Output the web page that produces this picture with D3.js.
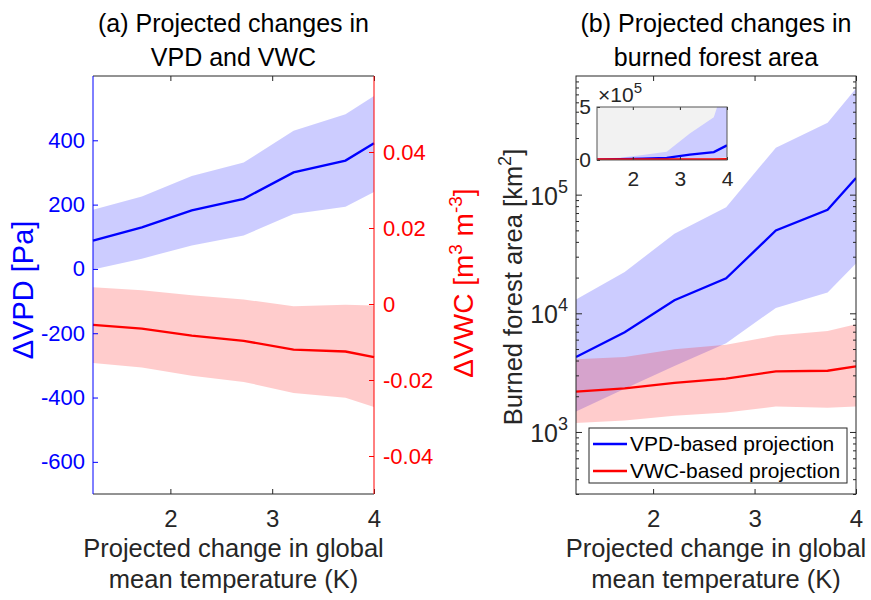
<!DOCTYPE html>
<html>
<head>
<meta charset="utf-8">
<script src="https://cdn.jsdelivr.net/npm/d3@7"></script>
<style>
  body { margin: 0; background: #fff; }
  svg { display: block; font-family: "Liberation Sans", Arial, sans-serif; }
</style>
</head>
<body>
<div id="chartContainer"></div>
<script>
// Global mean temperature change (K) at which the projections were evaluated
const temps = [1.24, 1.72, 2.21, 2.72, 3.21, 3.72, 4.0];

// (a) VPD change [Pa]: median and spread
const vpdMedian = [88, 129, 182, 218, 300, 337, 391];
const vpdUpper = [184, 225, 289, 331, 430, 481, 538];
const vpdLower = [-2, 32, 73, 104, 171, 193, 239];

// (a) VWC change [m3 m-3]
const vwcMedian = [-0.0055, -0.0065, -0.0083, -0.0097, -0.0120, -0.0125, -0.0140];
const vwcUpper = [0.0044, 0.0036, 0.0023, 0.0012, -0.0006, -0.0002, -0.0004];
const vwcLower = [-0.0155, -0.0167, -0.0189, -0.0205, -0.0234, -0.0247, -0.0271];

// (b) Burned forest area [km2]
const areaVpdMedian = [4280, 6930, 12900, 19700, 49900, 74500, 138000];
const areaVpdUpper = [13100, 22300, 46800, 78300, 249000, 404000, 785000];
const areaVpdLower = [1490, 2310, 3600, 5600, 11100, 15000, 26300];
const areaVwcMedian = [2190, 2330, 2590, 2810, 3240, 3280, 3570];
const areaVwcUpper = [4110, 4280, 4990, 5420, 6490, 7100, 8090];
const areaVwcLower = [1190, 1250, 1370, 1460, 1640, 1600, 1640];

// Tick labels
const xTicks = [2, 3, 4];
const vpdTicks = [-600, -400, -200, 0, 200, 400];
const vwcTicks = [-0.04, -0.02, 0, 0.02, 0.04];
const areaTicks = [1e3, 1e4, 1e5];
const insetYTicks = [0, 5e5];

const legendLabels = ["VPD-based projection", "VWC-based projection"];

const BLUE = "#0000ff", RED = "#ff0000", DARK = "#262626";

function createChart() {
    const width = 871, height = 600;
    const top = 76, bottom = 494;

    const svg = d3.create("svg")
        .attr("width", width)
        .attr("height", height)
        .attr("viewBox", `0 0 ${width} ${height}`);

    // ---------- panel (a) ----------
    const xA = d3.scaleLinear().domain([1.24, 4]).range([93, 374]);
    const yVpd = d3.scaleLinear().domain([-700, 600]).range([bottom, top]);
    const yVwc = d3.scaleLinear().domain([-0.05, 0.06]).range([bottom, top]);

    const rows = temps.map((t, i) => ({ t, i }));

    const areaGen = (x, y, lo, hi) => d3.area()
        .x(d => x(d.t)).y0(d => y(lo[d.i])).y1(d => y(hi[d.i]));
    const lineGen = (x, y, v) => d3.line()
        .x(d => x(d.t)).y(d => y(v[d.i]));

    const gA = svg.append("g");
    gA.append("path").datum(rows)
        .attr("d", areaGen(xA, yVpd, vpdLower, vpdUpper))
        .attr("fill", BLUE).attr("fill-opacity", 0.2);
    gA.append("path").datum(rows)
        .attr("d", areaGen(xA, yVwc, vwcLower, vwcUpper))
        .attr("fill", RED).attr("fill-opacity", 0.2);
    gA.append("path").datum(rows)
        .attr("d", lineGen(xA, yVpd, vpdMedian))
        .attr("fill", "none").attr("stroke", BLUE).attr("stroke-width", 2.3);
    gA.append("path").datum(rows)
        .attr("d", lineGen(xA, yVwc, vwcMedian))
        .attr("fill", "none").attr("stroke", RED).attr("stroke-width", 2.3);

    // box: top/bottom dark, left blue, right red
    const styleAxis = (g, color, size) => {
        g.select(".domain").remove();
        g.selectAll(".tick line").attr("stroke", color);
        g.selectAll(".tick text").attr("fill", color).style("font-size", size + "px");
    };
    const plain = d => String(d);   // hyphen minus, like the original

    gA.append("g").attr("transform", `translate(0,${bottom})`)
        .call(d3.axisBottom(xA).tickValues(xTicks).tickFormat(plain)
            .tickSize(-5).tickPadding(16))
        .call(g => styleAxis(g, DARK, 24));
    gA.append("g").attr("transform", `translate(0,${top})`)
        .call(d3.axisTop(xA).tickValues(xTicks).tickFormat("").tickSize(-5))
        .call(g => styleAxis(g, DARK, 24));
    gA.append("g").attr("transform", `translate(${xA.range()[0]},0)`)
        .call(d3.axisLeft(yVpd).tickValues(vpdTicks).tickFormat(plain)
            .tickSize(-5).tickPadding(8))
        .call(g => styleAxis(g, BLUE, 22));
    gA.append("g").attr("transform", `translate(${xA.range()[1]},0)`)
        .call(d3.axisRight(yVwc).tickValues(vwcTicks).tickSize(-5).tickPadding(9)
            .tickFormat(d => d === 0 ? "0" : d.toFixed(2)))
        .call(g => styleAxis(g, RED, 22));

    const [ax0, ax1] = xA.range();
    gA.append("line").attr("x1", ax0).attr("x2", ax1).attr("y1", top).attr("y2", top).attr("stroke", DARK);
    gA.append("line").attr("x1", ax0).attr("x2", ax1).attr("y1", bottom).attr("y2", bottom).attr("stroke", DARK);
    gA.append("line").attr("x1", ax0).attr("x2", ax0).attr("y1", top).attr("y2", bottom).attr("stroke", BLUE);
    gA.append("line").attr("x1", ax1).attr("x2", ax1).attr("y1", top).attr("y2", bottom).attr("stroke", RED);

    // y labels
    svg.append("text")
        .attr("transform", "translate(33,290) rotate(-90)")
        .attr("text-anchor", "middle").attr("fill", BLUE)
        .style("font-size", "29px")
        .text("\u0394VPD [Pa]");
    const vwcLabel = svg.append("text")
        .attr("transform", "translate(473,283) rotate(-90)")
        .attr("text-anchor", "middle").attr("fill", RED)
        .style("font-size", "28px");
    vwcLabel.append("tspan").text("\u0394VWC [m");
    vwcLabel.append("tspan").attr("dy", -11).style("font-size", "19px").text("3");
    vwcLabel.append("tspan").attr("dy", 11).text(" m");
    vwcLabel.append("tspan").attr("dy", -11).style("font-size", "19px").text("-3");
    vwcLabel.append("tspan").attr("dy", 11).text("]");

    // ---------- panel (b) ----------
    const xB = d3.scaleLinear().domain([1.24, 4]).range([576, 856]);
    const yArea = d3.scaleLog().domain([300, 1e6]).range([bottom, top]);

    svg.append("clipPath").attr("id", "clipB")
        .append("rect").attr("x", 576).attr("y", top).attr("width", 280).attr("height", bottom - top);

    const gB = svg.append("g");
    const plotB = gB.append("g").attr("clip-path", "url(#clipB)");
    plotB.append("path").datum(rows)
        .attr("d", areaGen(xB, yArea, areaVpdLower, areaVpdUpper))
        .attr("fill", BLUE).attr("fill-opacity", 0.2);
    plotB.append("path").datum(rows)
        .attr("d", areaGen(xB, yArea, areaVwcLower, areaVwcUpper))
        .attr("fill", RED).attr("fill-opacity", 0.2);
    plotB.append("path").datum(rows)
        .attr("d", lineGen(xB, yArea, areaVpdMedian))
        .attr("fill", "none").attr("stroke", BLUE).attr("stroke-width", 2.3);
    plotB.append("path").datum(rows)
        .attr("d", lineGen(xB, yArea, areaVwcMedian))
        .attr("fill", "none").attr("stroke", RED).attr("stroke-width", 2.3);

    const minorTicks = [];
    for (let e = 2; e <= 5; e++) {
        for (let m = 2; m <= 9; m++) {
            const v = m * Math.pow(10, e);
            if (v >= 300 && v <= 1e6) minorTicks.push(v);
        }
    }
    const [bx0, bx1] = xB.range();

    gB.append("g").attr("transform", `translate(0,${bottom})`)
        .call(d3.axisBottom(xB).tickValues(xTicks).tickFormat(plain)
            .tickSize(-5).tickPadding(16))
        .call(g => styleAxis(g, DARK, 24));
    gB.append("g").attr("transform", `translate(0,${top})`)
        .call(d3.axisTop(xB).tickValues(xTicks).tickFormat("").tickSize(-5))
        .call(g => styleAxis(g, DARK, 24));
    [[bx0, d3.axisLeft], [bx1, d3.axisRight]].forEach(([xp, axisFn]) => {
        gB.append("g").attr("transform", `translate(${xp},0)`)
            .call(axisFn(yArea).tickValues(minorTicks).tickFormat("").tickSize(-3))
            .call(g => styleAxis(g, DARK, 22));
        gB.append("g").attr("transform", `translate(${xp},0)`)
            .call(axisFn(yArea).tickValues(areaTicks).tickFormat("").tickSize(-6))
            .call(g => styleAxis(g, DARK, 22));
    });
    // log tick labels 10^n
    const logLabels = gB.append("g").selectAll("text")
        .data(areaTicks).join("text")
        .attr("x", bx0 - 8).attr("y", d => yArea(d) + 10)
        .attr("text-anchor", "end").attr("fill", DARK)
        .style("font-size", "25px");
    logLabels.append("tspan").text("10");
    logLabels.append("tspan").attr("dy", -12).style("font-size", "18px")
        .text(d => Math.round(Math.log10(d)));

    gB.append("rect").attr("x", bx0).attr("y", top)
        .attr("width", bx1 - bx0).attr("height", bottom - top)
        .attr("fill", "none").attr("stroke", DARK);

    const areaLabel = svg.append("text")
        .attr("transform", "translate(522,287) rotate(-90)")
        .attr("text-anchor", "middle").attr("fill", DARK)
        .style("font-size", "25.5px");
    areaLabel.append("tspan").text("Burned forest area [km");
    areaLabel.append("tspan").attr("dy", -11).style("font-size", "18px").text("2");
    areaLabel.append("tspan").attr("dy", 11).text("]");

    // ---------- inset (linear scale) ----------
    const xI = d3.scaleLinear().domain([1.24, 4]).range([597, 727]);
    const yI = d3.scaleLinear().domain([0, 5e5]).range([160, 107]);
    svg.append("clipPath").attr("id", "clipI")
        .append("rect").attr("x", 597).attr("y", 107).attr("width", 130).attr("height", 53);
    const gI = svg.append("g");
    gI.append("rect").attr("x", 597).attr("y", 107).attr("width", 130).attr("height", 53)
        .attr("fill", "#f2f2f2");
    const plotI = gI.append("g").attr("clip-path", "url(#clipI)");
    plotI.append("path").datum(rows)
        .attr("d", areaGen(xI, yI, areaVpdLower, areaVpdUpper))
        .attr("fill", "#ccccff");
    plotI.append("path").datum(rows)
        .attr("d", areaGen(xI, yI, areaVwcLower, areaVwcUpper))
        .attr("fill", RED).attr("fill-opacity", 0.2);
    plotI.append("path").datum(rows)
        .attr("d", lineGen(xI, yI, areaVpdMedian))
        .attr("fill", "none").attr("stroke", BLUE).attr("stroke-width", 2.3);
    plotI.append("path").datum(rows)
        .attr("d", lineGen(xI, yI, areaVwcMedian))
        .attr("fill", "none").attr("stroke", RED).attr("stroke-width", 3);
    gI.append("g").attr("transform", "translate(0,160)")
        .call(d3.axisBottom(xI).tickValues(xTicks).tickFormat(plain)
            .tickSize(-3).tickPadding(11))
        .call(g => styleAxis(g, DARK, 21));
    gI.append("g").attr("transform", "translate(0,107)")
        .call(d3.axisTop(xI).tickValues(xTicks).tickFormat("").tickSize(-3))
        .call(g => styleAxis(g, DARK, 21));
    gI.append("g").attr("transform", "translate(597,0)")
        .call(d3.axisLeft(yI).tickValues(insetYTicks).tickSize(-3).tickPadding(6)
            .tickFormat(d => String(d / 1e5)))
        .call(g => styleAxis(g, DARK, 21));
    gI.append("rect").attr("x", 597).attr("y", 107).attr("width", 130).attr("height", 53)
        .attr("fill", "none").attr("stroke", "#555");
    const expo = gI.append("text").attr("x", 598).attr("y", 102)
        .attr("fill", DARK).style("font-size", "21px");
    expo.append("tspan").text("\u00d710");
    expo.append("tspan").attr("dy", -9).style("font-size", "15px").text("5");

    // ---------- legend ----------
    const lg = svg.append("g");
    lg.append("rect").attr("x", 589).attr("y", 428).attr("width", 258).attr("height", 55)
        .attr("fill", "#fff").attr("stroke", DARK);
    lg.selectAll("g.item").data(legendLabels).join("g")
        .attr("transform", (d, i) => `translate(593,${444 + i * 27})`)
        .each(function (d, i) {
            const g = d3.select(this);
            g.append("line").attr("x1", 0).attr("x2", 34)
                .attr("stroke", i === 0 ? BLUE : RED).attr("stroke-width", 2.3);
            g.append("text").attr("x", 37).attr("dy", "0.35em")
                .attr("fill", "#000").style("font-size", "21px").text(d);
        });

    // ---------- titles and x labels ----------
    const centerA = (ax0 + ax1) / 2, centerB = (bx0 + bx1) / 2;
    const twoLines = (cx, y0, lines, size) => lines.forEach((s, i) =>
        svg.append("text").attr("x", cx).attr("y", y0 + i * 34)
            .attr("text-anchor", "middle").attr("fill", "#000")
            .style("font-size", size + "px").text(s));
    twoLines(centerA, 32, ["(a) Projected changes in", "VPD and VWC"], 25);
    twoLines(centerB, 32, ["(b) Projected changes in", "burned forest area"], 25);
    [centerA, centerB].forEach(cx => {
        svg.append("text").attr("x", cx).attr("y", 557)
            .attr("text-anchor", "middle").attr("fill", DARK)
            .style("font-size", "25.5px").text("Projected change in global");
        svg.append("text").attr("x", cx).attr("y", 588)
            .attr("text-anchor", "middle").attr("fill", DARK)
            .style("font-size", "25.5px").text("mean temperature (K)");
    });

    return svg.node();
}

document.getElementById("chartContainer").appendChild(createChart());
</script>
</body>
</html>
